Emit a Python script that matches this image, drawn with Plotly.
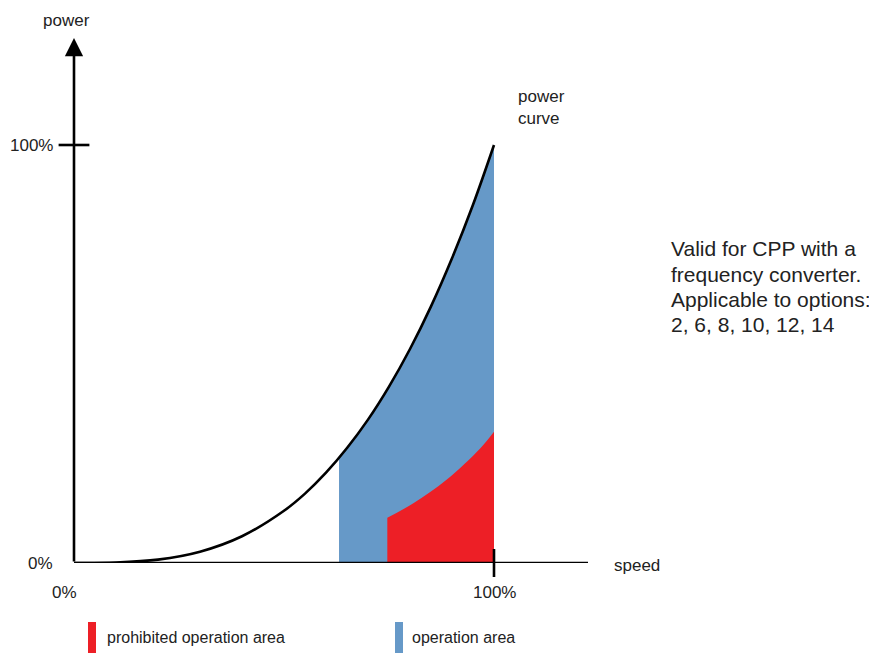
"""Power curve chart with operation / prohibited areas."""

import plotly.graph_objects as go

# ── data ────────────────────────────────────────────────────
curve_speed = [0, 0.1, 0.2, 0.3, 0.4, 0.5, 0.55, 0.6, 0.65, 0.7, 0.75, 0.8, 0.85, 0.9, 0.95, 1.0]
curve_power = [0, 0.001, 0.008, 0.027, 0.064, 0.125, 0.166, 0.216, 0.275, 0.343, 0.422, 0.512, 0.614, 0.729, 0.857, 1.0]

op_speed = [0.631, 0.65, 0.7, 0.75, 0.8, 0.85, 0.9, 0.95, 1.0]
op_power = [0.251, 0.275, 0.343, 0.422, 0.512, 0.614, 0.729, 0.857, 1.0]

red_speed = [0.746, 0.808, 0.887, 0.967, 1.0]
red_power = [0.108, 0.143, 0.199, 0.274, 0.314]

x_ticks = [0, 1]
x_labels = ["0%", "100%"]
y_ticks = [0, 1]
y_labels = ["0%", "100%"]

note_lines = ["Valid for CPP with a", "frequency converter.",
              "Applicable to options:", "2, 6, 8, 10, 12, 14"]

BLUE = "#6699c8"
RED = "#ed1f26"
FONT = "Liberation Sans, Arial, Helvetica, sans-serif"

# the page body adds an 8px margin, so work in screen pixels minus that
OFF = 8
W, H = 877, 653
L, R, T, B = 74 - OFF, 297, 38 - OFF, 98
X_MAX = (W - L - R) / 420
Y_MAX = (H - T - B) / 418


def px(x):
    return (x - OFF - L) / (W - L - R)


def py(y):
    return (H - B - (y - OFF)) / (H - T - B)


fig = go.Figure()
fig.add_trace(go.Scatter(
    x=op_speed, y=op_power, mode="lines", line=dict(width=0, shape="spline"),
    fill="tozeroy", fillcolor=BLUE, hoverinfo="skip",
))
fig.add_trace(go.Scatter(
    x=red_speed, y=red_power, mode="lines", line=dict(width=0, shape="spline"),
    fill="tozeroy", fillcolor=RED, hoverinfo="skip",
))
fig.add_trace(go.Scatter(
    x=curve_speed, y=curve_power, mode="lines",
    line=dict(color="black", width=2.6, shape="spline"),
))

# crossing tick marks at 100%
fig.add_trace(go.Scatter(
    x=[x_ticks[1]], y=[0], mode="markers", cliponaxis=False,
    marker=dict(symbol="line-ns", size=20, line=dict(color="black", width=2.6)),
))
fig.add_trace(go.Scatter(
    x=[0], y=[y_ticks[1]], mode="markers", cliponaxis=False,
    marker=dict(symbol="line-ew", size=22, line=dict(color="black", width=2.6)),
))

# axes
fig.add_shape(type="line", x0=0, x1=X_MAX, y0=0, y1=0, xref="x", yref="y",
              line=dict(color="black", width=2.6))
fig.add_annotation(x=0, y=Y_MAX, ax=0, ay=0, xref="x", yref="y", axref="x", ayref="y",
                   showarrow=True, arrowhead=2, arrowsize=1.4, arrowwidth=2.6,
                   arrowcolor="black", text="")


def note(x, y, text, size=17, xanchor="center", xref="paper", yref="paper"):
    fig.add_annotation(x=x, y=y, xref=xref, yref=yref, text=text, showarrow=False,
                       xanchor=xanchor, yanchor="middle", align="left",
                       font=dict(size=size, color="#222", family=FONT))


# tick labels
note(px(64), py(592), x_labels[0])
note(x_ticks[1], py(592), x_labels[1], xref="x")
note(px(55), y_ticks[0], y_labels[0], xanchor="right", yref="y")
note(px(55), y_ticks[1], y_labels[1], xanchor="right", yref="y")

# axis titles and notes
note(px(66), py(21), "power")
note(px(612), py(565), "speed", xanchor="left")
note(px(516), py(107), "power<br>curve", xanchor="left")
for i, line in enumerate(note_lines):
    note(px(669), py(249 + 25 * i), line, size=21, xanchor="left")

# legend
fig.add_shape(type="rect", xref="paper", yref="paper", x0=px(88), x1=px(96),
              y0=py(660), y1=py(622), fillcolor=RED, line=dict(width=0))
note(px(105), py(637), "prohibited operation area", size=16, xanchor="left")
fig.add_shape(type="rect", xref="paper", yref="paper", x0=px(395), x1=px(403),
              y0=py(660), y1=py(622), fillcolor=BLUE, line=dict(width=0))
note(px(410), py(637), "operation area", size=16, xanchor="left")

fig.update_layout(
    width=W, height=H, margin=dict(l=L, r=R, t=T, b=B),
    plot_bgcolor="white", paper_bgcolor="white", showlegend=False,
    xaxis=dict(range=[0, X_MAX], visible=False, fixedrange=True),
    yaxis=dict(range=[0, Y_MAX], visible=False, fixedrange=True),
)

fig.write_html("out.html")
